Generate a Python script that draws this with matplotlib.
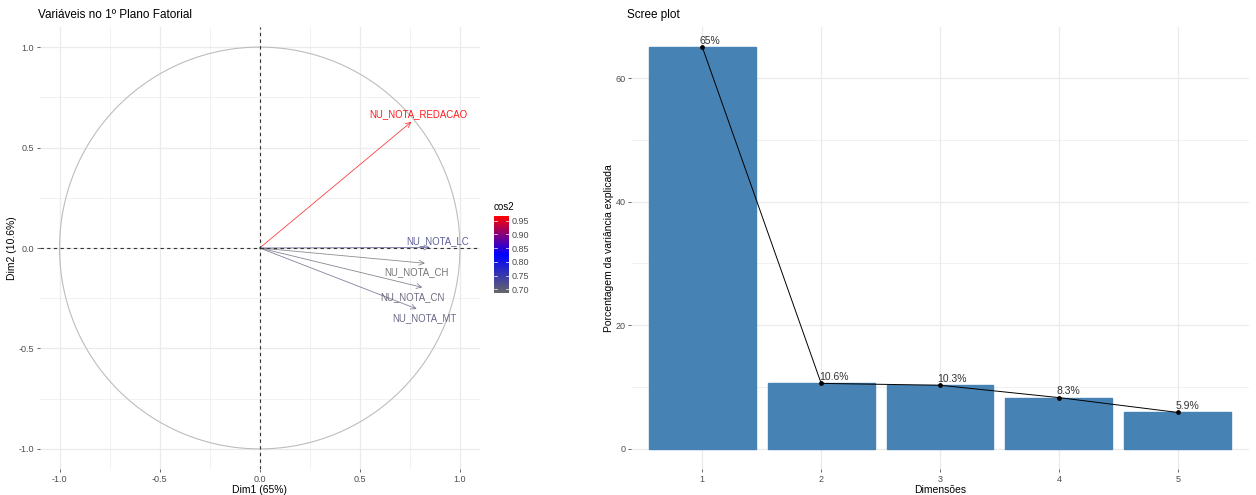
import matplotlib.pyplot as plt
import numpy as np
from matplotlib.patches import Circle, FancyArrowPatch
from matplotlib.colors import LinearSegmentedColormap, Normalize
from matplotlib.ticker import MultipleLocator

plt.rcParams['font.family'] = ['Liberation Sans', 'DejaVu Sans']

# variable coordinates on the 1st factorial plane
variaveis = ['NU_NOTA_REDACAO', 'NU_NOTA_LC', 'NU_NOTA_CH', 'NU_NOTA_CN', 'NU_NOTA_MT']
dim1 = [0.757, 0.850, 0.825, 0.812, 0.784]
dim2 = [0.628, 0.003, -0.076, -0.196, -0.303]

# scree plot
dimensoes = [1, 2, 3, 4, 5]
variancia = [65.0, 10.6, 10.3, 8.3, 5.9]
rotulos = ['65%', '10.6%', '10.3%', '8.3%', '5.9%']

# label offsets from the arrow tips (layout only)
lab_dx = [0.035, 0.04, -0.04, -0.047, 0.036]
lab_dy = [0.036, 0.032, -0.044, -0.048, -0.045]

cinza = '#4D4D4D'
grade = '#EBEBEB'

fig = plt.figure(figsize=(12.56, 4.95), dpi=100)

# ---------------- left: variables plot ----------------
ax = fig.add_axes([39.5/1256, 26/495, 440.5/1256, 442/495])
ax.set_xlim(-1.1, 1.1)
ax.set_ylim(-1.1, 1.1)
for s in ax.spines.values():
    s.set_visible(False)
ax.xaxis.set_major_locator(MultipleLocator(0.5))
ax.yaxis.set_major_locator(MultipleLocator(0.5))
ax.xaxis.set_minor_locator(MultipleLocator(0.25))
ax.yaxis.set_minor_locator(MultipleLocator(0.25))
ax.grid(True, which='major', color=grade, lw=0.9)
ax.grid(True, which='minor', color=grade, lw=0.5)
ax.set_axisbelow(True)
ax.tick_params(which='major', length=2.5, width=0.6, color=cinza, labelsize=6.5,
               labelcolor=cinza, pad=1.5)
ax.tick_params(which='minor', length=0)
ax.set_xticks([-1.0, -0.5, 0.0, 0.5, 1.0])
ax.set_xticklabels(['-1.0', '-0.5', '0.0', '0.5', '1.0'])
ax.set_yticks([-1.0, -0.5, 0.0, 0.5, 1.0])
ax.set_yticklabels(['-1.0', '-0.5', '0.0', '0.5', '1.0'])

ax.add_patch(Circle((0, 0), 1.0, fill=False, color='#BDBDBD', lw=0.8))
ax.axhline(0, color='#333333', lw=0.8, ls=(0, (3, 3)))
ax.axvline(0, color='#333333', lw=0.8, ls=(0, (3, 3)))

cos2 = np.array(dim1)**2 + np.array(dim2)**2
cmap = LinearSegmentedColormap.from_list('g', ['#666666', '#0000FF', '#FF0000'])
norm = Normalize(cos2.min(), cos2.max())

for i, nome in enumerate(variaveis):
    c = cmap(norm(cos2[i]))
    ax.add_patch(FancyArrowPatch((0, 0), (dim1[i], dim2[i]), arrowstyle='->',
                                 mutation_scale=9, color=c, lw=0.6, alpha=0.75,
                                 shrinkA=0, shrinkB=0))
    ax.text(dim1[i] + lab_dx[i], dim2[i] + lab_dy[i], nome, color=c,
            fontsize=6.9, ha='center', va='center', alpha=0.9)

ax.set_xlabel('Dim1 (65%)', fontsize=7.5, color='black', labelpad=1)
ax.set_ylabel('Dim2 (10.6%)', fontsize=7.5, color='black', labelpad=1)
fig.text(38/1256, 1 - 15/495, 'Variáveis no 1º Plano Fatorial', fontsize=8.5,
         ha='left', va='center')

# colour bar
cax = fig.add_axes([494/1256, (495-293)/495, 15/1256, 77/495])
sm = plt.cm.ScalarMappable(norm=norm, cmap=cmap)
cb = fig.colorbar(sm, cax=cax, ticks=[0.70, 0.75, 0.80, 0.85, 0.90, 0.95])
cb.outline.set_visible(False)
cb.ax.set_yticklabels(['0.70', '0.75', '0.80', '0.85', '0.90', '0.95'])
cb.ax.tick_params(length=0, labelsize=6.5, labelcolor=cinza, pad=2)
for t in [0.70, 0.75, 0.80, 0.85, 0.90, 0.95]:
    cb.ax.plot([0, 0.2], [t, t], color='white', lw=0.6, alpha=0.8)
    cb.ax.plot([0.8, 1.0], [t, t], color='white', lw=0.6, alpha=0.8)
fig.text(494/1256, 1 - 207/495, 'cos2', fontsize=7, ha='left', va='center')

# ---------------- right: scree plot ----------------
bx = fig.add_axes([631/1256, 26/495, 618/1256, 442/495])
for s in bx.spines.values():
    s.set_visible(False)
bx.bar(dimensoes, variancia, width=0.9, color='#4682B4', edgecolor='#4682B4', zorder=2)
bx.plot(dimensoes, variancia, color='black', lw=0.7, zorder=3)
bx.scatter(dimensoes, variancia, color='black', s=6, zorder=4)
for x, v, r in zip(dimensoes, variancia, rotulos):
    bx.text(x - 0.02, v + 0.2, r, fontsize=7.5, ha='left', va='bottom', color='#333333',
            zorder=5)
bx.set_xlim(0.4, 5.6)
bx.set_ylim(-3.25, 68.25)
bx.set_xticks(dimensoes)
bx.set_yticks([0, 20, 40, 60])
bx.yaxis.set_minor_locator(MultipleLocator(10))
bx.grid(True, which='major', color=grade, lw=0.9)
bx.grid(True, which='minor', axis='y', color=grade, lw=0.5)
bx.set_axisbelow(True)
bx.tick_params(which='major', length=2.5, width=0.6, color=cinza, labelsize=6.5,
               labelcolor=cinza, pad=1.5)
bx.tick_params(which='minor', length=0)
bx.set_xlabel('Dimensões', fontsize=7.5, labelpad=1)
bx.set_ylabel('Porcentagem da variância explicada', fontsize=7.5, labelpad=1)
fig.text(627/1256, 1 - 15/495, 'Scree plot', fontsize=8.5, ha='left', va='center')

fig.savefig('out.png', dpi=100)
